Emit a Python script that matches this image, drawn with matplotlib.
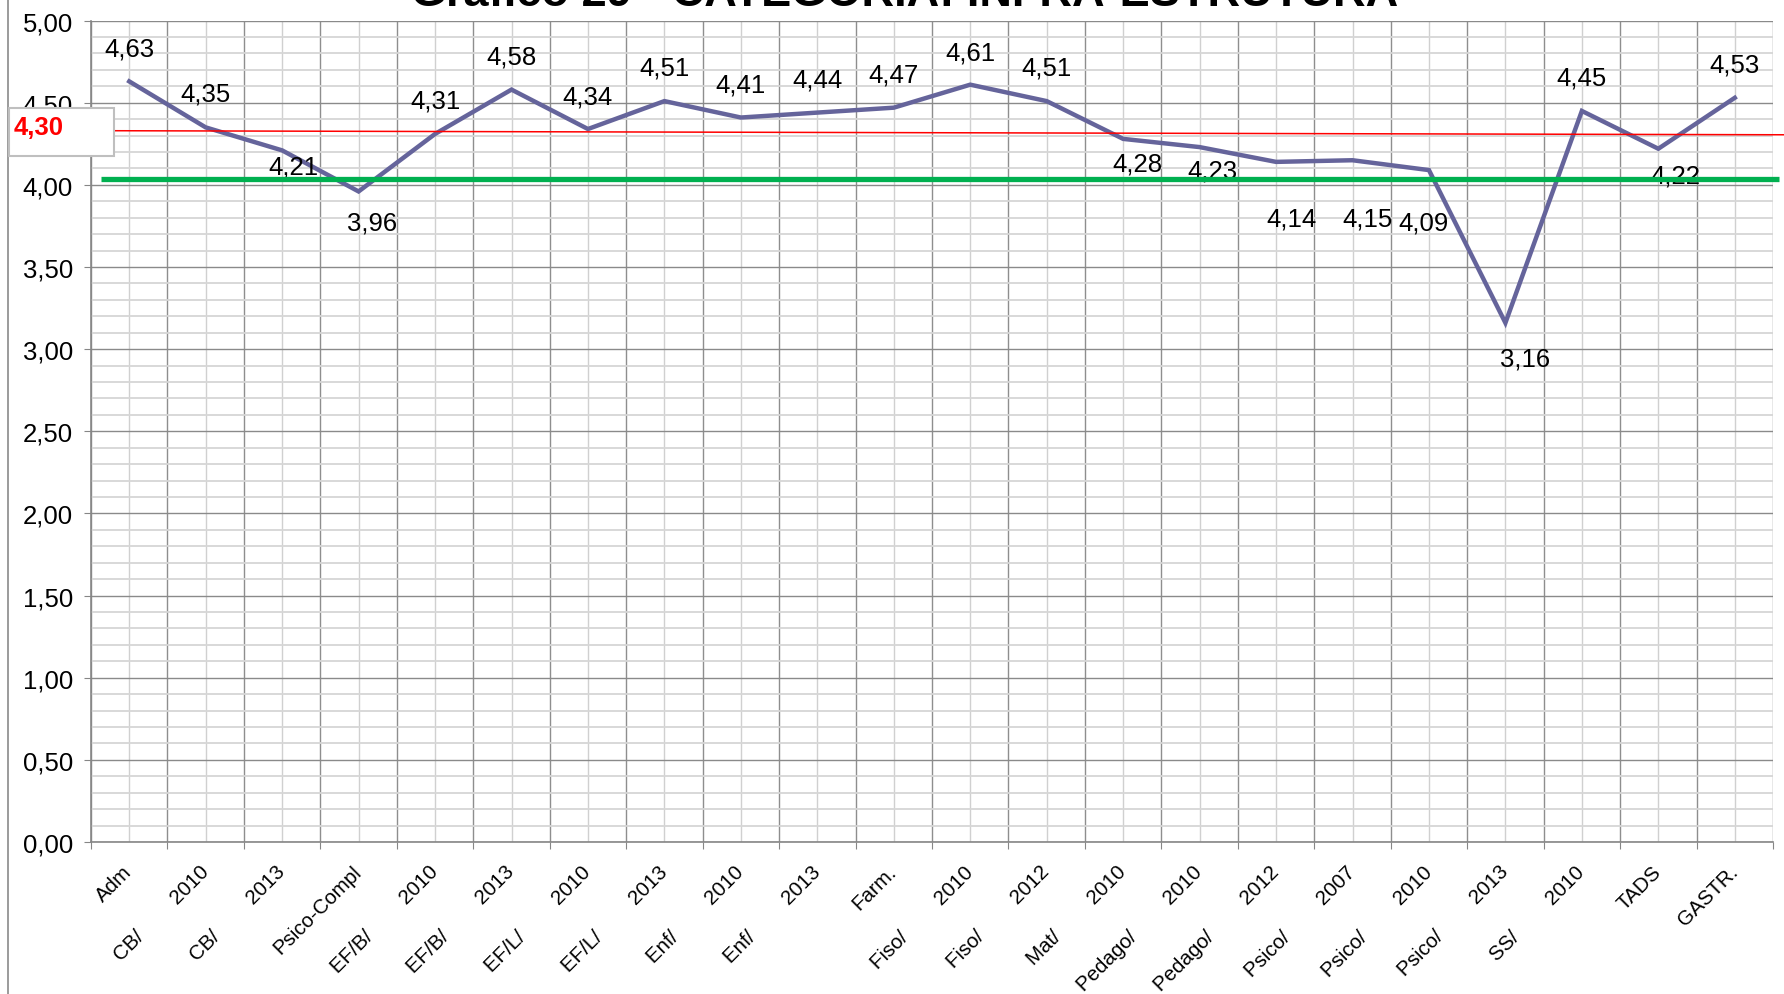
import matplotlib
matplotlib.use("Agg")
import matplotlib.pyplot as plt
from matplotlib.ticker import MultipleLocator, FixedLocator, FuncFormatter
from matplotlib.patches import Rectangle
from matplotlib.lines import Line2D

plt.rcParams['font.family'] = ['Liberation Sans', 'DejaVu Sans']

# ---------------- data ----------------
title = "Gráfico 29 - CATEGORIA: INFRA-ESTRUTURA"
course = ["Adm", "CB/", "CB/", "Psico-Compl", "EF/B/", "EF/B/", "EF/L/", "EF/L/",
          "Enf/", "Enf/", "Farm.", "Fiso/", "Fiso/", "Mat/", "Pedago/", "Pedago/",
          "Psico/", "Psico/", "Psico/", "SS/", "TADS", "GASTR."]
year = ["", "2010", "2013", "", "2010", "2013", "2010", "2013",
        "2010", "2013", "", "2010", "2012", "2010", "2010", "2012",
        "2007", "2010", "2013", "2010", "", ""]
values = [4.63, 4.35, 4.21, 3.96, 4.31, 4.58, 4.34, 4.51, 4.41, 4.44, 4.47,
          4.61, 4.51, 4.28, 4.23, 4.14, 4.15, 4.09, 3.16, 4.45, 4.22, 4.53]
mean_line = [4.33, 4.305]     # red reference line (start, end), labelled 4,30
mean_label = "4,30"
green_level = 4.035           # green reference line

# label offsets in pixels (dx, dy screen-down)
label_offsets = [(0, -33), (0, -34), (11, 16), (13, 31), (0, -33), (0, -33),
                 (0, -33), (0, -34), (0, -33), (0, -33), (0, -33), (0, -32),
                 (0, -34), (14, 25), (13, 23), (15, 57), (15, 58), (-5, 52),
                 (20, 36), (0, -33), (17, 27), (0, -33)]

W, H = 1784, 995
fig = plt.figure(figsize=(W / 100, H / 100), dpi=100)
x0, x1, ytop, ybot = 91, 1773, 21.6, 843
ax = fig.add_axes([x0 / W, 1 - ybot / H, (x1 - x0) / W, (ybot - ytop) / H])

n = len(values)
xs = list(range(n))
ax.set_xlim(-0.5, n - 0.5)
ax.set_ylim(0, 5)

# grid
ax.yaxis.set_major_locator(MultipleLocator(0.5))
ax.yaxis.set_minor_locator(MultipleLocator(0.1))
ax.yaxis.set_major_formatter(FuncFormatter(lambda v, p: f"{v:.2f}".replace(".", ",")))
ax.xaxis.set_major_locator(FixedLocator([i - 0.5 for i in range(n + 1)]))
ax.xaxis.set_minor_locator(FixedLocator(xs))
ax.set_xticklabels([], minor=False)

labels = []
for c, y in zip(course, year):
    labels.append(c if not y else c + " " * 8 + y)
ax.set_xticks(xs, labels, minor=True, rotation=45, ha='right',
              rotation_mode='anchor', va='center', fontsize=14.8)

ax.grid(which='major', axis='y', color='#8a8a8a', lw=1.0, zorder=0)
ax.grid(which='minor', axis='y', color='#d6d6d6', lw=1.3, zorder=0)
ax.grid(which='major', axis='x', color='#8e8e8e', lw=1.0, zorder=0)
ax.grid(which='minor', axis='x', color='#d0d0d0', lw=1.0, zorder=0)
ax.set_axisbelow(True)

ax.tick_params(axis='y', which='major', length=5, color='#868686', labelsize=18.5, pad=8)
ax.tick_params(axis='y', which='minor', length=0)
ax.tick_params(axis='x', which='major', length=5, color='#868686', direction='out')
ax.tick_params(axis='x', which='minor', length=0, pad=19)

for s in ['top', 'right']:
    ax.spines[s].set_visible(False)
for s in ['left', 'bottom']:
    ax.spines[s].set_color('#868686')
    ax.spines[s].set_linewidth(1.2)

# main series
ax.plot(xs, values, color='#65649B', lw=3.2, zorder=3, solid_joinstyle='miter')

# reference lines
right_edge = (W - x0) / ((x1 - x0) / n) - 0.5
ax.plot([-0.5, right_edge], mean_line, color='#FF0000', lw=1.1, zorder=4, clip_on=False)
g_start = (100.7 - x0) / ((x1 - x0) / n) - 0.5
g_end = (1779 - x0) / ((x1 - x0) / n) - 0.5
ax.plot([g_start, g_end], [green_level, green_level], color='#00B050', lw=3.8,
        zorder=6, clip_on=False, solid_capstyle='butt')

# data labels
for xi, v, (dx, dy) in zip(xs, values, label_offsets):
    ax.annotate(f"{v:.2f}".replace(".", ","), (xi, v), xytext=(dx, -dy),
                textcoords='offset pixels', ha='center', va='center',
                fontsize=18.5, zorder=5)

# box with mean label
bx0, bx1, by0, by1 = 9, 114, 109, 157
fig.add_artist(Rectangle((bx0 / W, 1 - by1 / H), (bx1 - bx0) / W, (by1 - by0) / H,
                         transform=fig.transFigure, facecolor='white',
                         edgecolor='#BFBFBF', lw=1.5, zorder=10))
fig.text(14 / W, 1 - 128 / H, mean_label, color='#FF0000', fontsize=18.5,
         fontweight='bold', ha='left', va='center', zorder=11)

# chart-area left border
fig.add_artist(Line2D([8 / W, 8 / W], [0, 1], transform=fig.transFigure,
                      color='#8a8a8a', lw=1.2))

# title (partially cut at top, as in the reference)
fig.text(905 / W, 1 - 6 / H, title, ha='center', va='baseline',
         fontsize=32.5, fontweight='bold')

fig.savefig("out.png", dpi=100)
